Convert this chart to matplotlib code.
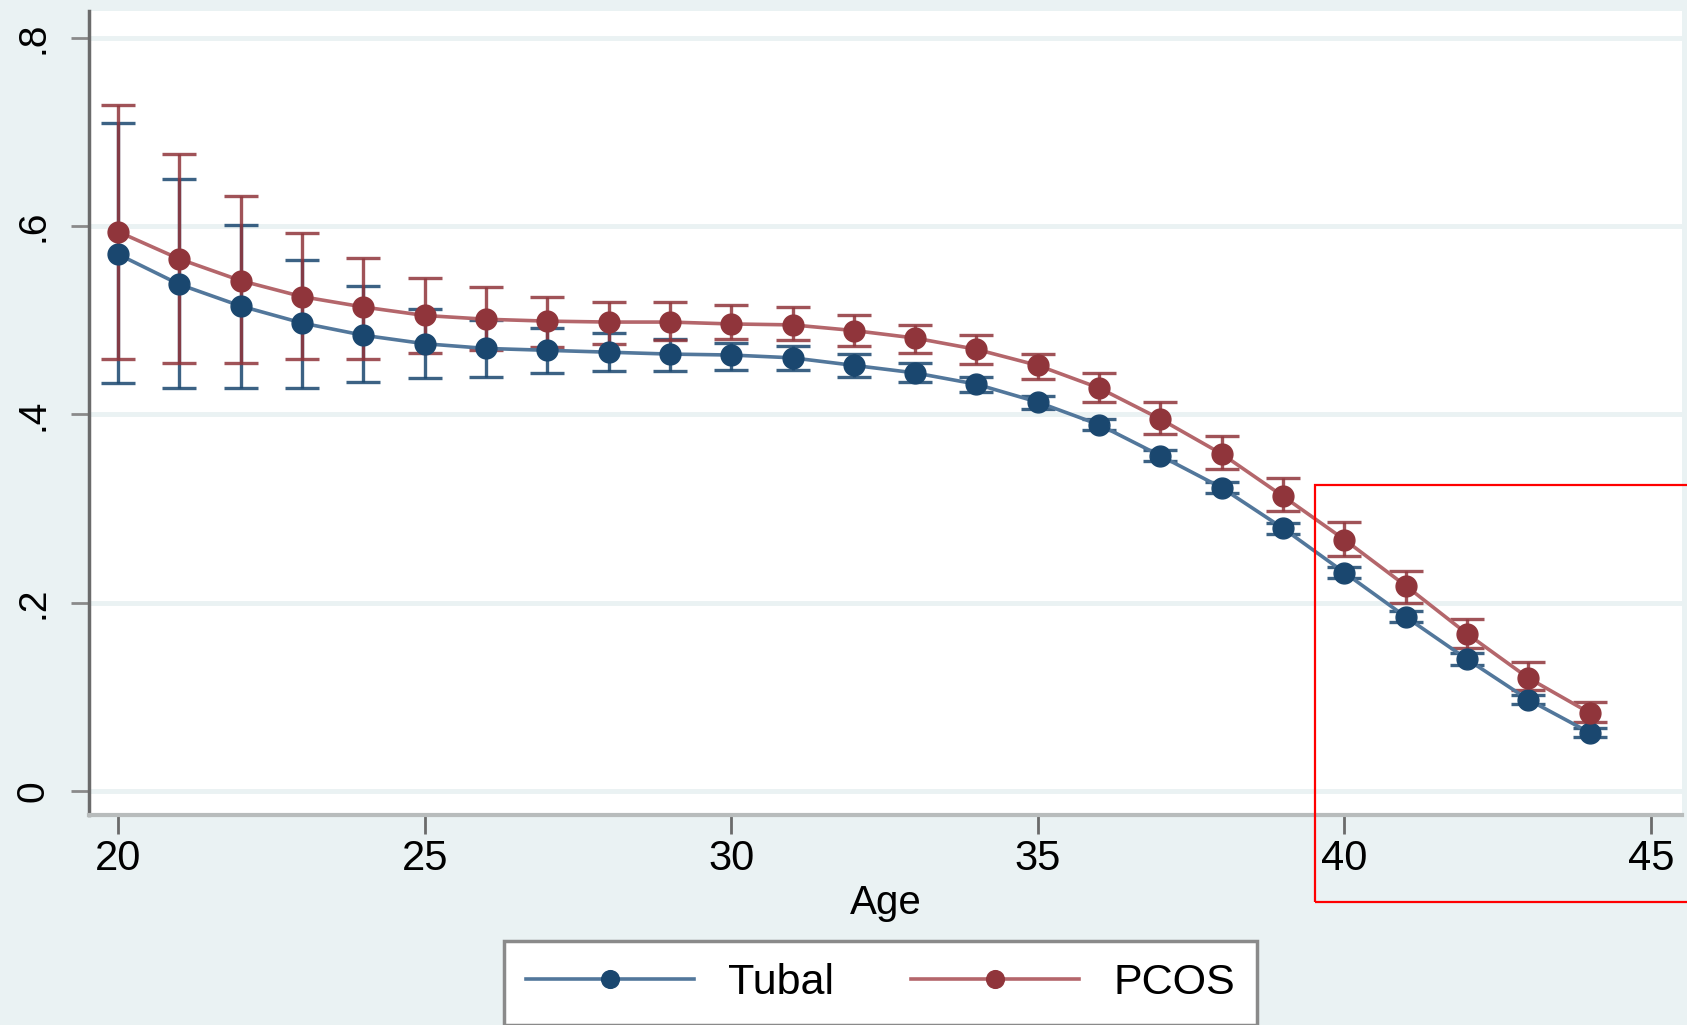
import numpy as np
import matplotlib
matplotlib.use("Agg")
import matplotlib.pyplot as plt
from matplotlib.patches import Rectangle

plt.rcParams["font.family"] = ["Liberation Sans", "DejaVu Sans"]

# data
ages = list(range(20, 45))

tubal = [0.570, 0.538, 0.515, 0.497, 0.484, 0.475, 0.470, 0.468, 0.466, 0.464,
         0.463, 0.460, 0.452, 0.444, 0.432, 0.413, 0.389, 0.356, 0.322, 0.279,
         0.232, 0.185, 0.140, 0.097, 0.062]
tubal_lo = [0.433, 0.428, 0.428, 0.428, 0.434, 0.439, 0.440, 0.444, 0.446, 0.446,
            0.447, 0.447, 0.440, 0.434, 0.424, 0.406, 0.383, 0.350, 0.316, 0.273,
            0.226, 0.179, 0.134, 0.092, 0.057]
tubal_hi = [0.709, 0.650, 0.601, 0.564, 0.536, 0.512, 0.500, 0.492, 0.486, 0.480,
            0.476, 0.473, 0.464, 0.454, 0.440, 0.420, 0.395, 0.362, 0.328, 0.285,
            0.238, 0.191, 0.146, 0.102, 0.067]

pcos = [0.594, 0.565, 0.542, 0.525, 0.514, 0.505, 0.501, 0.499, 0.498, 0.498,
        0.496, 0.495, 0.489, 0.481, 0.469, 0.452, 0.428, 0.395, 0.358, 0.313,
        0.267, 0.218, 0.167, 0.120, 0.083]
pcos_lo = [0.459, 0.455, 0.455, 0.459, 0.459, 0.465, 0.468, 0.472, 0.475, 0.479,
           0.480, 0.479, 0.473, 0.465, 0.453, 0.438, 0.413, 0.379, 0.342, 0.297,
           0.250, 0.200, 0.152, 0.107, 0.073]
pcos_hi = [0.729, 0.677, 0.632, 0.593, 0.566, 0.545, 0.535, 0.525, 0.519, 0.519,
           0.516, 0.514, 0.505, 0.495, 0.484, 0.464, 0.444, 0.413, 0.377, 0.332,
           0.286, 0.234, 0.183, 0.137, 0.095]

yticks = [0, 0.2, 0.4, 0.6, 0.8]
ytick_labels = ["0", ".2", ".4", ".6", ".8"]
xticks = [20, 25, 30, 35, 40, 45]

bg = "#EAF2F3"
navy = "#1A476F"
navy_line = "#52779B"
maroon = "#90353B"
maroon_line = "#B4666B"

fig = plt.figure(figsize=(16.87, 10.25), dpi=100, facecolor=bg)
ax = fig.add_axes([0.0528, 0.2049, 0.9442, 0.7844])
ax.set_facecolor("white")

# confidence intervals
t = np.array(tubal)
p = np.array(pcos)
ax.errorbar(ages, tubal, yerr=[t - np.array(tubal_lo), np.array(tubal_hi) - t],
            fmt="none", ecolor=navy, elinewidth=2.4, capsize=12, capthick=2.4,
            alpha=0.85, zorder=3)
ax.errorbar(ages, pcos, yerr=[p - np.array(pcos_lo), np.array(pcos_hi) - p],
            fmt="none", ecolor=maroon, elinewidth=2.4, capsize=12, capthick=2.4,
            alpha=0.85, zorder=4)

# mean lines
ax.plot(ages, tubal, color=navy_line, lw=2.6, marker="o", markersize=15,
        markerfacecolor=navy, markeredgecolor=navy, label="Tubal", zorder=5)
ax.plot(ages, pcos, color=maroon_line, lw=2.6, marker="o", markersize=15,
        markerfacecolor=maroon, markeredgecolor=maroon, label="PCOS", zorder=6)

ax.set_xlim(19.527, 45.506)
ax.set_ylim(-0.0255, 0.8284)

ax.set_yticks(yticks)
ax.set_yticklabels(ytick_labels, rotation=90, va="center")
ax.set_xticks(xticks)
ax.grid(axis="y", color=bg, linewidth=3.5)
ax.set_axisbelow(True)

for s in ["top", "right"]:
    ax.spines[s].set_visible(False)
ax.spines["left"].set_color("#6b6b6b")
ax.spines["left"].set_linewidth(2.5)
ax.spines["bottom"].set_color("#b8bcbc")
ax.spines["bottom"].set_linewidth(3)

ax.tick_params(axis="y", length=13, width=2, color="#8a8a8a", labelsize=28, pad=14)
ax.tick_params(axis="x", length=14, width=2, color="#6b6b6b", labelsize=30, pad=3)

ax.set_xlabel("Age", fontsize=29, labelpad=4)

leg = fig.legend(loc="center", bbox_to_anchor=(0.522, 0.041), ncol=2,
                 fontsize=31, frameon=True, fancybox=False, handlelength=3.9,
                 markerscale=0.85, columnspacing=1.8, handletextpad=0.8,
                 borderpad=0.5)
leg.get_frame().set_edgecolor("#8a8a8a")
leg.get_frame().set_linewidth(2.5)
leg.get_frame().set_facecolor("white")
leg.get_frame().set_alpha(1)

# red highlight box drawn over the picture
fig.patches.append(Rectangle((1315 / 1687, 1 - 902 / 1025), 0.25, 417 / 1025,
                             transform=fig.transFigure, fill=False,
                             edgecolor="red", linewidth=1.6, zorder=10))

fig.savefig("out.png", dpi=100, facecolor=bg)
